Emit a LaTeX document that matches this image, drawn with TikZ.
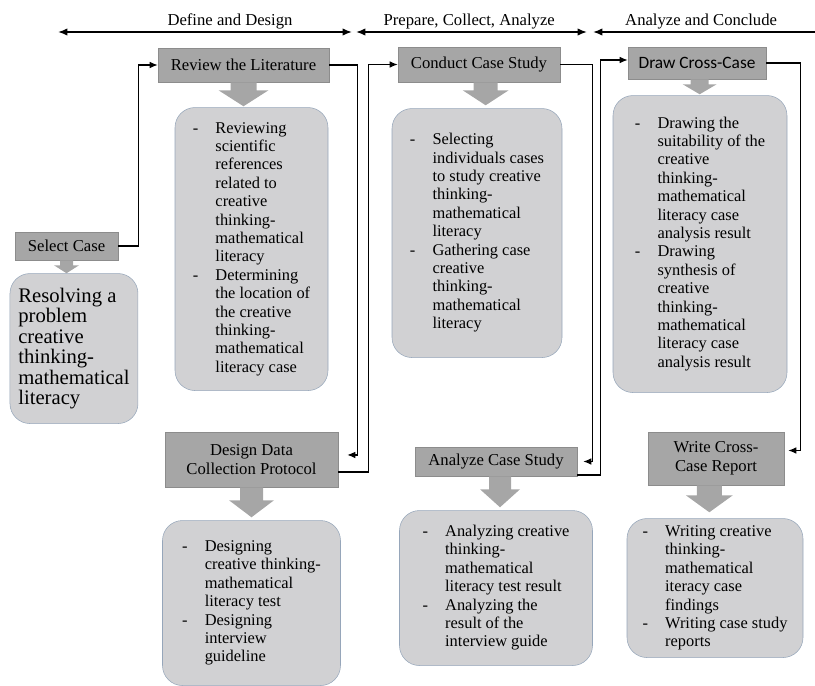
\documentclass[tikz,border=0pt]{standalone}
\usepackage{fontspec}
\setmainfont{Liberation Serif}
\newfontfamily\calibri{Carlito}
\usetikzlibrary{positioning,arrows.meta}

\definecolor{headgray}{RGB}{166,166,166}
\definecolor{headedge}{RGB}{140,140,140}
\definecolor{boxgray}{RGB}{209,209,211}
\definecolor{boxedge}{RGB}{150,166,186}

% dash + hanging text, one row per printed line
\newcommand{\steplist}[1]{\begin{tabular}{@{}p{17pt}@{}l@{}}#1\end{tabular}}

\tikzset{
    stage/.style={draw=headedge, fill=headgray, inner sep=0pt, align=center, font=\fontsize{12.5}{14.5}\selectfont},
    detail/.style={draw=boxedge, fill=boxgray, rounded corners=15pt, inner sep=0pt, font=\fontsize{12.3}{13.8}\selectfont},
    % fat down arrow: shaft half width / head half width / shaft length / total length
    pics/downblock/.style n args={4}{code={
        \fill[headgray] (-#1,0) -- (-#1,#3) -- (-#2,#3) -- (0,#4) -- (#2,#3) -- (#1,#3) -- (#1,0) -- cycle;
    }},
    link/.style={line width=0.9pt, -{Latex[length=6pt,width=5pt]}},
    phase/.style={line width=1.1pt, {Latex[length=7pt,width=5.5pt]}-{Latex[length=7pt,width=5.5pt]}},
    openphase/.style={line width=1.1pt, {Latex[length=7pt,width=5.5pt]}-},
    phaselbl/.style={above, inner sep=1.5pt, font=\fontsize{12.5}{14.5}\selectfont},
}

\begin{document}
\begin{tikzpicture}[x=0.75pt, y=-0.75pt]
    \useasboundingbox (0,0) rectangle (815,686);

    % phases on top
    \coordinate (dd1) at (58,32);
    \coordinate (dd2) at (352,32);
    \coordinate (pca1) at (356,32);
    \coordinate (pca2) at (587,32);
    \coordinate (ac1) at (593,32);
    \coordinate (ac2) at (815,32);
    \draw[phase] (dd1) -- node[phaselbl, pos=0.585] (ddlbl) {Define and Design} (dd2);
    \draw[phase] (pca1) -- node[phaselbl, pos=0.49] (pcalbl) {Prepare, Collect, Analyze} (pca2);
    \draw[openphase] (ac1) -- node[phaselbl, pos=0.487] (aclbl) {Analyze and Conclude} (ac2);

    % step boxes
    \node[stage, minimum width=77.25pt, minimum height=21pt] (select) at (66.5,246) {Select Case};
    \node[stage, minimum width=128.25pt, minimum height=25.5pt] (review) at (243.5,65) {Review the Literature};
    \node[stage, minimum width=121.5pt, minimum height=26.25pt] (conduct) at (479,64.5) {Conduct Case Study};
    \node[stage, minimum width=103.5pt, minimum height=24pt, font=\calibri\fontsize{13}{15}\selectfont] (drawcc) at (697,63) {Draw Cross-Case};
    \node[stage, minimum width=129.75pt, minimum height=41.25pt] (design) at (251.5,459.5) {Design Data\\Collection Protocol};
    \node[stage, minimum width=121.5pt, minimum height=21.75pt] (analyze) at (496,461.5) {Analyze Case Study};
    \node[stage, minimum width=102pt, minimum height=39.75pt] (write) at (716,458.5) {Write Cross-\\Case Report};

    % block arrows under the steps
    \pic at (select.south) {downblock={6.5}{12.5}{5}{13}};
    \pic at (review.south) {downblock={13}{25}{8}{24}};
    \pic at ([xshift=5pt]conduct.south) {downblock={12}{23}{8}{23}};
    \pic at ([xshift=2pt]drawcc.south) {downblock={9}{17}{5}{15}};
    \pic at (design.south) {downblock={11.5}{22.5}{13}{30}};
    \pic at ([xshift=3pt]analyze.south) {downblock={11}{20}{13}{31}};
    \pic at ([xshift=-5pt]write.south) {downblock={12.5}{23.5}{10}{27}};

    % detail boxes
    \node[detail, minimum width=96pt, minimum height=112.5pt, below=9.75pt of select, xshift=5.6pt, align=left, font=\fontsize{15.5}{15.4}\selectfont] (selbox)
        {Resolving a\\problem\\creative\\thinking-\\mathematical\\literacy};
    \node[detail, minimum width=114.75pt, minimum height=212.25pt, below=18.75pt of review, xshift=6pt] (revbox)
        {\steplist{- & Reviewing\\ & scientific\\ & references\\ & related to\\ & creative\\ & thinking-\\ & mathematical\\ & literacy\\
                   - & Determining\\ & the location of\\ & the creative\\ & thinking-\\ & mathematical\\ & literacy case}};
    \node[detail, minimum width=127.5pt, minimum height=186.75pt, below=19.5pt of conduct, xshift=-1.5pt] (conbox)
        {\steplist{- & Selecting\\ & individuals cases\\ & to study creative\\ & thinking-\\ & mathematical\\ & literacy\\
                   - & Gathering case\\ & creative\\ & thinking-\\ & mathematical\\ & literacy}};
    \node[detail, minimum width=130.5pt, minimum height=222.75pt, below=12pt of drawcc, xshift=2.25pt] (drabox)
        {\steplist{- & Drawing the\\ & suitability of the\\ & creative\\ & thinking-\\ & mathematical\\ & literacy case\\ & analysis result\\
                   - & Drawing\\ & synthesis of\\ & creative\\ & thinking-\\ & mathematical\\ & literacy case\\ & analysis result}};
    \node[detail, minimum width=133.5pt, minimum height=123.75pt, below=24.75pt of design] (desbox)
        {\steplist{- & Designing\\ & creative thinking-\\ & mathematical\\ & literacy test\\
                   - & Designing\\ & interview\\ & guideline}};
    \node[detail, minimum width=144.75pt, minimum height=116.25pt, below=25.5pt of analyze] (anabox)
        {\steplist{- & Analyzing creative\\ & thinking-\\ & mathematical\\ & literacy test result\\
                   - & Analyzing the\\ & result of the\\ & interview guide}};
    \node[detail, minimum width=132pt, minimum height=104.25pt, below=24.75pt of write, xshift=-0.75pt] (wribox)
        {\steplist{- & Writing creative\\ & thinking-\\ & mathematical\\ & iteracy case\\ & findings\\
                   - & Writing case study\\ & reports}};

    % flow between steps
    \draw[link] (select.east) -- ++(20,0) |- (review.west);
    \draw[link, shorten >=6.75pt] (review.east) -- ++(28,0) |- ([yshift=3.4pt]design.east);
    \draw[link] ([yshift=-9.4pt]design.east) -- ++(30,0) |- (conduct.west);
    \draw[link, shorten >=4.5pt] (conduct.east) -- ++(32,0) |- (analyze.east);
    \draw[link] ([yshift=1pt]analyze.south east) -- ++(23,0) |- ([yshift=2.25pt]drawcc.west);
    \draw[link, shorten >=3pt] (drawcc.east) -- ++(34,0) |- ([yshift=6pt]write.east);
\end{tikzpicture}
\end{document}
